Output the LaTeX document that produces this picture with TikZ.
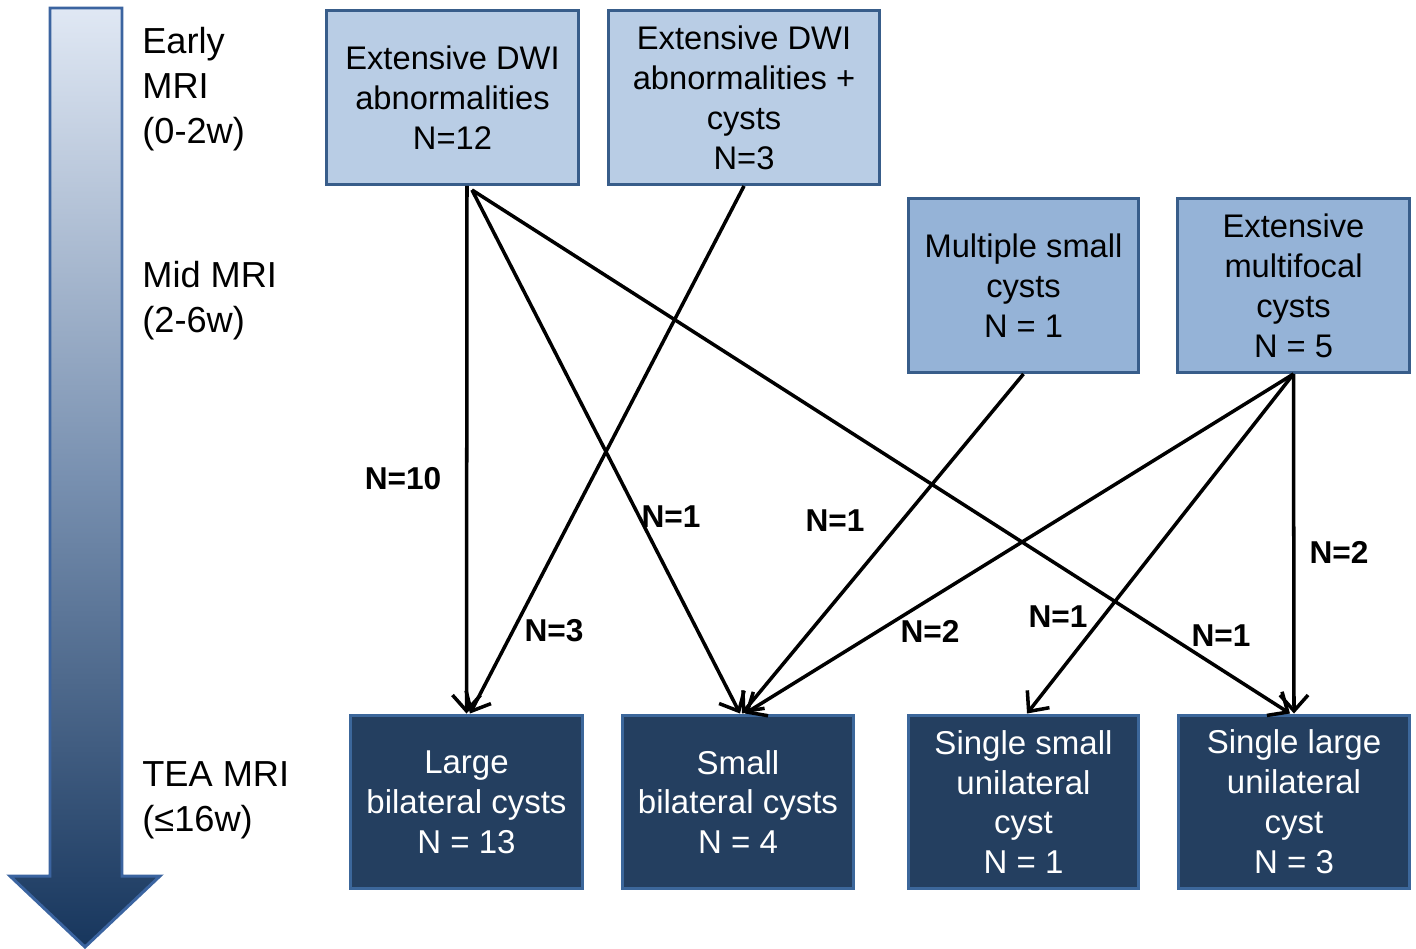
\documentclass[tikz,border=0pt]{standalone}
\usepackage{fontspec}
\setmainfont{Liberation Sans}
\usetikzlibrary{arrows.meta}
\definecolor{earlyfill}{HTML}{B9CDE5}
\definecolor{midfill}{HTML}{95B3D7}
\definecolor{teafill}{HTML}{243F60}
\definecolor{boxline}{HTML}{385D8A}
\definecolor{tealine}{HTML}{3C679B}
\definecolor{shafttop}{HTML}{E0E8F4}
\definecolor{shaftmid}{HTML}{7890B0}
\definecolor{shaftbot}{HTML}{17365D}
\definecolor{shaftline}{HTML}{3B64A0}

\begin{document}
\begin{tikzpicture}
  [x=0.02cm,y=-0.02cm,
   every node/.style={inner sep=0pt,font=\fontsize{18.6}{22.7}\selectfont},
   stage/.style={align=left,font=\fontsize{20.6}{25.5}\selectfont},
   early/.style={rectangle,draw=boxline,line width=1.7pt,fill=earlyfill,
     align=center,minimum height=3.48cm},
   mid/.style={early,fill=midfill},
   tea/.style={early,draw=tealine,fill=teafill,text=white,
     font=\fontsize{18.8}{22.7}\selectfont},
   count/.style={font=\fontsize{18}{20}\selectfont\bfseries},
   flow/.style={line width=2pt,-{Straight Barb[length=9pt,width=16pt]}}]
  \useasboundingbox (0,0) rectangle (1416,949);

  % time arrow
  \shade[top color=shafttop,bottom color=shaftbot,middle color=shaftmid]
    (50,8) -- (122,8) -- (122,876) -- (160,876) -- (85,947) -- (10,876)
    -- (50,876) -- cycle;
  \draw[shaftline,line width=1.7pt,line join=miter]
    (50,8) -- (122,8) -- (122,876) -- (160,876) -- (85,947) -- (10,876)
    -- (50,876) -- cycle;
  \node[stage,anchor=north west] (earlymri) at (142,27) {Early\\MRI\\(0-2w)};
  \node[stage,anchor=north west] (midmri) at (142,261) {Mid MRI\\(2-6w)};
  \node[stage,anchor=north west] (teamri) at (142,761) {TEA MRI\\(≤16w)};

  % early and mid boxes
  \node[early,minimum width=5.04cm] (dwi) at (452.5,97.5)
    {Extensive DWI\\abnormalities\\N=12};
  \node[early,minimum width=5.42cm] (dwicyst) at (744,97.5)
    {Extensive DWI\\abnormalities +\\cysts\\N=3};
  \node[mid,minimum width=4.6cm] (smallcysts) at (1023.5,285.5)
    {Multiple small\\cysts\\N = 1};
  \node[mid,minimum width=4.64cm] (multifocal) at (1293.5,285.5)
    {Extensive\\multifocal\\cysts\\N = 5};

  % TEA boxes
  \node[tea,minimum width=4.64cm] (largebil) at (466.5,802)
    {Large\\bilateral cysts\\N = 13};
  \node[tea,minimum width=4.62cm] (smallbil) at (738,802)
    {Small\\bilateral cysts\\N = 4};
  \node[tea,minimum width=4.6cm] (singlesmall) at (1023.5,802)
    {Single small\\unilateral\\cyst\\N = 1};
  \node[tea,minimum width=4.62cm] (singlelarge) at (1294,802)
    {Single large\\unilateral\\cyst\\N = 3};

  \draw[flow] ([xshift=0.29cm]dwi.south) -- (largebil.north);
  \draw[flow] (dwicyst.south) -- ([xshift=0.07cm]largebil.north);
  \draw[flow] ([xshift=0.39cm,yshift=-0.08cm]dwi.south) -- ([xshift=0.04cm]smallbil.north);
  \draw[flow] ([xshift=0.39cm,yshift=-0.08cm]dwi.south) -- ([xshift=-0.08cm]singlelarge.north);
  \draw[flow] (smallcysts.south) -- ([xshift=0.08cm]smallbil.north);
  \draw[flow] (multifocal.south) -- ([xshift=0.14cm]smallbil.north);
  \draw[flow] (multifocal.south) -- ([xshift=0.07cm]singlesmall.north);
  \draw[flow] (multifocal.south) -- (singlelarge.north);

  \node[count] (n10) at (403,479) {N=10};
  \node[count] (n3) at (554,631) {N=3};
  \node[count] (n1a) at (671,517) {N=1};
  \node[count] (n1b) at (835,521) {N=1};
  \node[count] (n2a) at (930,631) {N=2};
  \node[count] (n1c) at (1058,617) {N=1};
  \node[count] (n1d) at (1221,636) {N=1};
  \node[count] (n2b) at (1339,552) {N=2};

\end{tikzpicture}
\end{document}
